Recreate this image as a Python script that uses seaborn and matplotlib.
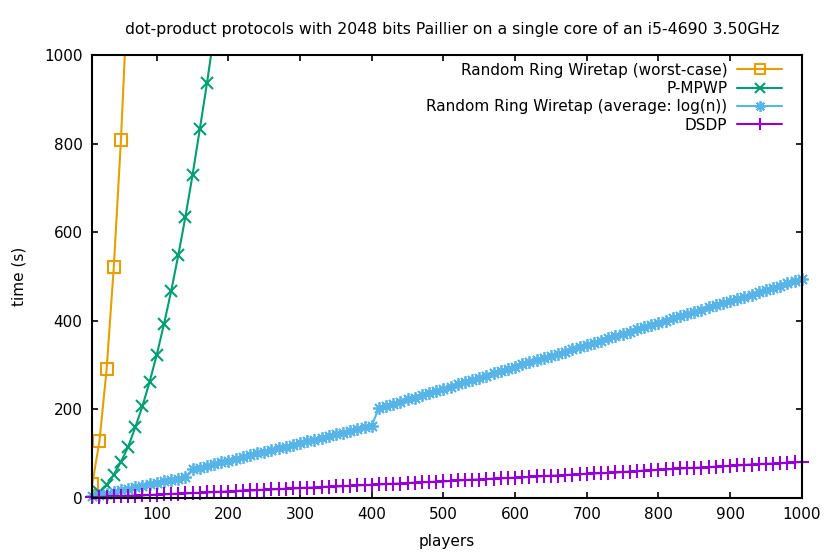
import numpy as np
import pandas as pd
import seaborn as sns
import matplotlib
matplotlib.use("Agg")
import matplotlib.pyplot as plt

# players axis
playersWorst = [10, 20, 30, 40, 50, 60]
playersMpwp = [10, 20, 30, 40, 50, 60, 70, 80, 90, 100, 110, 120,
               130, 140, 150, 160, 170, 180]
playersAll = list(range(10, 1010, 10))

# time (s)
worstCase = [31, 128, 290, 521, 809, 1165]
pMpwp = [3, 13, 29, 52, 81, 115, 159, 207, 262, 323, 392, 466,
         548, 635, 730, 832, 936, 1048]
averageLog = [3, 6, 9, 13, 17, 20, 24, 27, 30, 33, 37, 40, 43, 47,
              64, 68, 72, 76, 80, 84, 88, 92, 96, 100, 104, 108, 112, 115,
              119, 123, 127, 131, 135, 139, 143, 147, 151, 155, 159, 163,
              203, 207, 212, 216, 222, 226, 231, 236, 241, 246,
              251, 256, 261, 266, 271, 276, 281, 286, 291, 296,
              301, 306, 311, 316, 320, 325, 330, 335, 340, 345,
              350, 355, 360, 365, 370, 375, 380, 385, 390, 395,
              400, 405, 410, 415, 420, 425, 430, 435, 440, 444,
              449, 454, 459, 464, 469, 474, 479, 484, 489, 494]
dsdp = [1, 1.5, 2, 3, 3.5, 4, 5, 5.5, 6, 7,
        8, 8.5, 9, 10, 10.5, 11, 12, 13, 13.5, 14,
        15, 16, 16.5, 17, 18, 19, 19.5, 20, 21, 22,
        22.5, 23, 24, 25, 25.5, 26, 27, 28, 28.5, 29,
        30, 31, 31.5, 32, 33, 34, 35, 35.5, 36, 37,
        38, 39, 40, 40.5, 41, 42, 43, 44, 44.5, 45,
        46, 47, 48, 49, 49.5, 50, 51, 52, 53, 54,
        55, 55.5, 56, 57, 58, 59, 60, 61, 62, 63,
        64, 65, 66, 67, 67.5, 68, 69, 70, 71, 72,
        73, 74, 75, 76, 76.5, 77, 78, 79, 80, 81]

sns.set_theme(style="ticks")
plt.rcParams['font.family'] = ['DejaVu Sans']
plt.rcParams['text.color'] = 'black'
plt.rcParams['axes.labelcolor'] = 'black'
fs = 11

fig = plt.figure(figsize=(8.3, 5.54), dpi=100)
ax = fig.add_axes([0.1112, 0.1016, 0.8547, 0.7991])

orange = "#E69F00"
green = "#009E73"
blue = "#56B4E9"
purple = "#9400D3"

sns.lineplot(x=playersWorst, y=worstCase, ax=ax, color=orange, lw=1.5,
             marker="s", markersize=9, markerfacecolor="none",
             markeredgecolor=orange, markeredgewidth=1.5,
             label="Random Ring Wiretap (worst-case)", estimator=None)
sns.lineplot(x=playersMpwp, y=pMpwp, ax=ax, color=green, lw=1.5,
             marker="x", markersize=9, markeredgecolor=green,
             markeredgewidth=1.5, label="P-MPWP", estimator=None)
sns.lineplot(x=playersAll, y=averageLog, ax=ax, color=blue, lw=1.5,
             marker=(8, 2, 0), markersize=9, markeredgecolor=blue,
             markeredgewidth=1.3, label="Random Ring Wiretap (average: log(n))",
             estimator=None, clip_on=False)
sns.lineplot(x=playersAll, y=dsdp, ax=ax, color=purple, lw=1.5,
             marker="+", markersize=10, markeredgecolor=purple,
             markeredgewidth=1.5, label="DSDP", estimator=None, clip_on=False)

ax.set_xlim(10, 1000)
ax.set_ylim(0, 1000)
ax.set_xticks(range(100, 1001, 100))
ax.set_yticks(range(0, 1001, 200))
ax.tick_params(direction="in", length=4.5, width=1.2, top=True, right=True,
               labelsize=fs, colors="black", pad=7)
for s in ax.spines.values():
    s.set_color("black")
    s.set_linewidth(1.5)

ax.set_xlabel("players", fontsize=fs, labelpad=8)
ax.set_ylabel("time (s)", fontsize=fs, labelpad=13)
ax.set_title("dot-product protocols with 2048 bits Paillier on a single core of an i5-4690 3.50GHz",
             fontsize=11.3, pad=15, x=0.507)

ax.legend(loc="upper right", markerfirst=False, frameon=False,
          handlelength=3.0, labelspacing=0.22, borderaxespad=0.3,
          handletextpad=0.6, fontsize=fs, markerscale=0.85,
          bbox_to_anchor=(0.988, 1.007))

fig.savefig("out.png", dpi=100)
